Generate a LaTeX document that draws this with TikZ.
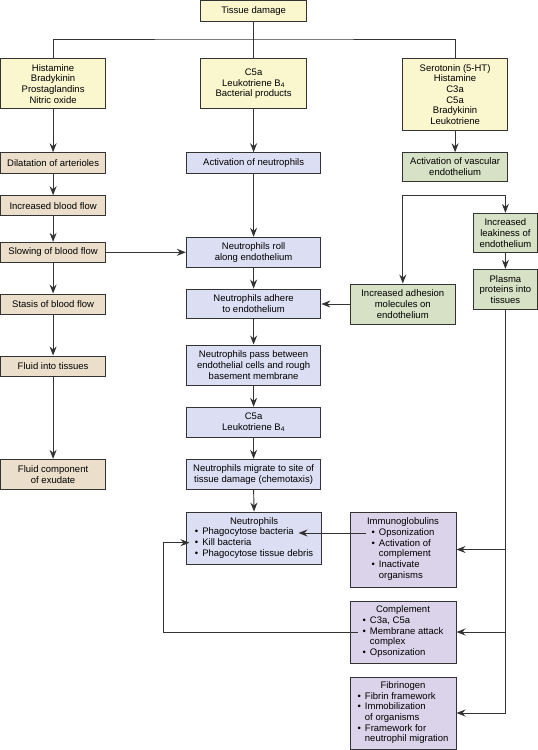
\documentclass[tikz,border=0pt]{standalone}
\usepackage{fontspec}
\setmainfont{Liberation Sans}
\usetikzlibrary{arrows.meta,calc}
\definecolor{yel}{HTML}{FAF6CE}
\definecolor{tan}{HTML}{EBDFCB}
\definecolor{blu}{HTML}{DCDEF4}
\definecolor{grn}{HTML}{D7E1C5}
\definecolor{pur}{HTML}{DAD3EA}
\definecolor{ink}{HTML}{333333}
\newcommand{\blist}[2]{\begin{tabular}{@{}c@{}}#1\\\begin{tabular}[t]{@{}l@{\hspace{4pt}}l@{}}#2\end{tabular}\end{tabular}}
\begin{document}
\begin{tikzpicture}[x=1pt,y=-1pt,
  box/.style={draw=ink,line width=1pt,inner sep=0pt,align=center,
    font=\fontsize{9.5}{10.7}\selectfont},
  yelbox/.style={box,fill=yel},
  tanbox/.style={box,fill=tan,minimum width=105pt},
  blubox/.style={box,fill=blu,minimum width=134.5pt},
  grnbox/.style={box,fill=grn},
  purbox/.style={box,fill=pur,minimum width=106pt},
  ln/.style={draw=ink,line width=0.9pt},
  tip/.tip={Stealth[length=9pt,width=7pt,inset=3pt]},
  arr/.style={ln,-tip},
  arrboth/.style={ln,tip-tip}]
\useasboundingbox (0,0) rectangle (538,750);

% top
\node[yelbox,minimum width=105.5pt,minimum height=21pt] (td) at (253.6,11.2) {Tissue damage};
\node[yelbox,minimum width=105pt,minimum height=50pt] (h1) at (53.1,83.7) {Histamine\\Bradykinin\\Prostaglandins\\Nitric oxide};
\node[yelbox,minimum width=105.5pt,minimum height=50pt] (c1) at (253.6,83.7) {C5a\\Leukotriene B\textsubscript{4}\\Bacterial products};
\node[yelbox,minimum width=105.3pt,minimum height=71.3pt] (s1) at (455.1,94.4) {Serotonin (5-HT)\\Histamine\\C3a\\C5a\\Bradykinin\\Leukotriene};

% left column
\node[tanbox,minimum height=20.6pt] (dil) at (53.1,163) {Dilatation of arterioles};
\node[tanbox,minimum height=20pt] (ibf) at (53.1,205.7) {Increased blood flow};
\node[tanbox,minimum height=20pt] (slow) at (53.1,252.3) {Slowing of blood flow};
\node[tanbox,minimum height=20pt] (stasis) at (53.1,304) {Stasis of blood flow};
\node[tanbox,minimum height=20pt] (fit) at (53.1,366) {Fluid into tissues};
\node[tanbox,minimum height=30pt] (fce) at (53.1,474.3) {Fluid component\\of exudate};

% middle column
\node[blubox,minimum height=20.6pt] (actn) at (253.6,163) {Activation of neutrophils};
\node[blubox,minimum height=30pt] (roll) at (253.6,252.3) {Neutrophils roll\\along endothelium};
\node[blubox,minimum height=29.7pt] (adh) at (253.6,303.9) {Neutrophils adhere\\to endothelium};
\node[blubox,minimum height=40pt] (pass) at (253.6,365) {Neutrophils pass between\\endothelial cells and rough\\basement membrane};
\node[blubox,minimum height=30.4pt] (c5b) at (253.6,422.5) {C5a\\Leukotriene B\textsubscript{4}};
\node[blubox,minimum height=30pt] (mig) at (253.6,474.3) {Neutrophils migrate to site of\\tissue damage (chemotaxis)};
\node[blubox,minimum width=135.5pt,minimum height=52.3pt] (neu) at (254.1,538.2) {\blist{Neutrophils}{%
\textbullet&Phagocytose bacteria\\
\textbullet&Kill bacteria\\
\textbullet&Phagocytose tissue debris}};

% right column
\node[grnbox,minimum width=105.3pt,minimum height=28.3pt] (actv) at (455.1,166.9) {Activation of vascular\\endothelium};
\node[grnbox,minimum width=63.8pt,minimum height=39.4pt] (leak) at (505.4,233) {Increased\\leakiness of\\endothelium};
\node[grnbox,minimum width=63.8pt,minimum height=40pt] (plasma) at (505.4,289.3) {Plasma\\proteins into\\tissues};
\node[grnbox,minimum width=105.6pt,minimum height=40pt] (incadh) at (402.8,304) {Increased adhesion\\molecules on\\endothelium};

\node[purbox,minimum height=75pt] (immuno) at (403,549.5) {\blist{Immunoglobulins}{%
\textbullet&Opsonization\\
\textbullet&Activation of\\
&complement\\
\textbullet&Inactivate\\
&organisms}};
\node[purbox,minimum height=62pt] (compl) at (403,632) {\blist{Complement}{%
\textbullet&C3a, C5a\\
\textbullet&Membrane attack\\
&complex\\
\textbullet&Opsonization}};
\node[purbox,minimum height=72pt] (fib) at (403,713) {\blist{Fibrinogen}{%
\textbullet&Fibrin framework\\
\textbullet&Immobilization\\
&of organisms\\
\textbullet&Framework for\\
&neutrophil migration}};

% connectors
\coordinate (top) at (253.6,39);
\draw[ln] (td.south) -- (c1.north);
\draw[ln] (h1.north) |- (top) -| (s1.north);
\draw[arr] (h1.south) -- (dil.north);
\draw[arr] (c1.south) -- (actn.north);
\draw[arr] (s1.south) -- (actv.north);

\draw[arr] (dil.south) -- (ibf.north);
\draw[arr] (ibf.south) -- (slow.north);
\draw[arr] (slow.south) -- (stasis.north);
\draw[arr] (stasis.south) -- (fit.north);
\draw[arr] (fit.south) -- (fce.north);
\draw[arr] (slow.east) -- (roll.west);

\draw[arr] (actn.south) -- (roll.north);
\draw[arr] (roll.south) -- (adh.north);
\draw[arr] (adh.south) -- (pass.north);
\draw[arr] (pass.south) -- (c5b.north);
\draw[arr] (c5b.south) -- (mig.north);
\draw[arr] (mig.south) -- (neu.north);

\coordinate (bL) at (402.8,195);
\coordinate (bR) at (505.4,195);
\draw[arrboth] (incadh.north) -- (bL) -- (bR) -- (leak.north);
\draw[arr] (leak.south) -- (plasma.north);
\draw[arr] (incadh.west) -- (adh.east |- incadh.west);

\draw[arr] (plasma.south) |- (fib.east);
\draw[arr] (plasma.south |- immuno.east) -- (immuno.east);
\draw[arr] (plasma.south |- compl.east) -- (compl.east);

\coordinate (imo) at (366,533);
\coordinate (nbact) at (298.5,533);
\draw[arr] (imo) -- (nbact);
\coordinate (cmo) at (358,632);
\coordinate (cl) at (163.3,632);
\coordinate (nkill) at (189.5,542.7);
\draw[arr] (cmo) -- (cl) |- (nkill);
\end{tikzpicture}
\end{document}
